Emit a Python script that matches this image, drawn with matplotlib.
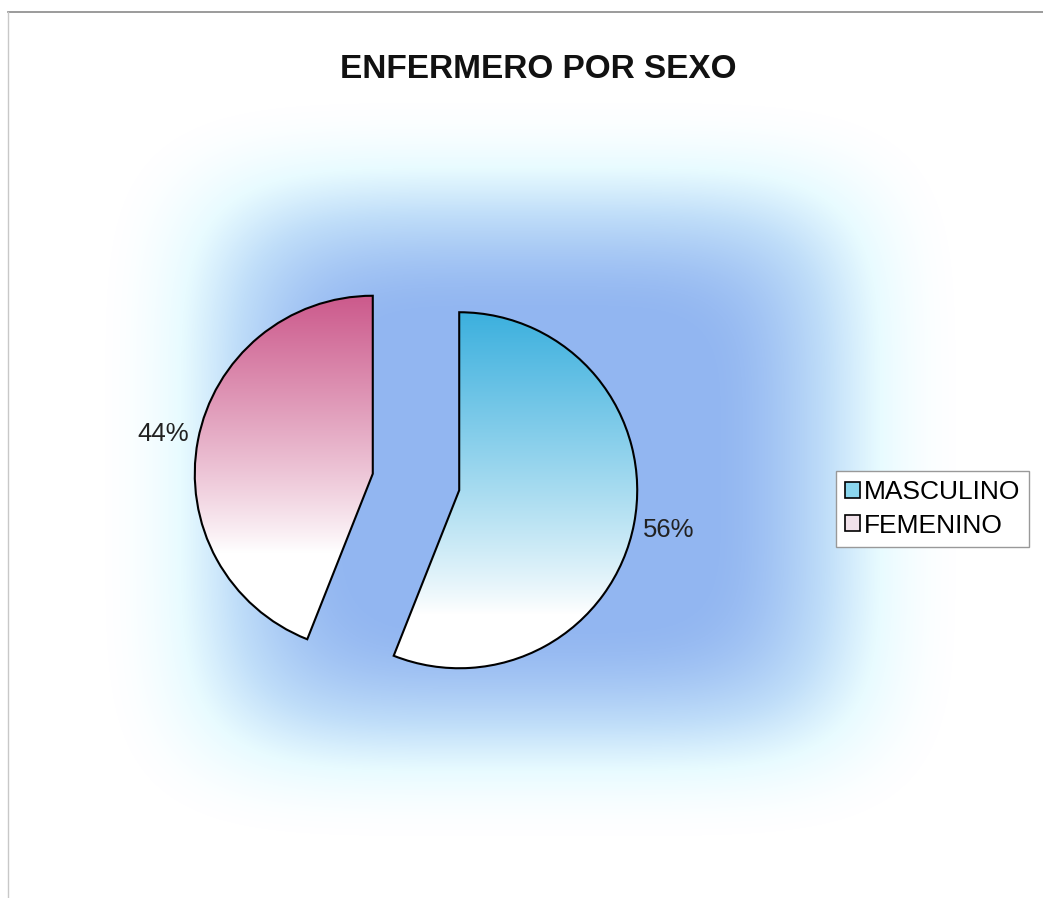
import numpy as np
import matplotlib.pyplot as plt
from matplotlib.colors import LinearSegmentedColormap, to_rgb
from matplotlib.patches import Rectangle

plt.rcParams['font.family'] = ['Liberation Sans', 'DejaVu Sans']

# ---------------------------------------------------------------------------
# Datos
# ---------------------------------------------------------------------------
titulo      = "ENFERMERO POR SEXO"
categorias  = ["MASCULINO", "FEMENINO"]
porcentajes = [56, 44]
colores     = ["#3cb0de", "#cc5a8c"]      # color superior del degradado
leyenda_col = ["#8ad6ee", "#f1e2ea"]

W, H = 1043, 898
fig = plt.figure(figsize=(W / 100, H / 100), dpi=100)
ax = fig.add_axes([0, 0, 1, 1])
ax.set_aspect('equal')

# ---------------------------------------------------------------------------
# Fondo: degradado desde el centro (azul -> blanco)
# ---------------------------------------------------------------------------
yy, xx = np.mgrid[0:H, 0:W]
cx, cy = 530, H - 470
dx = np.abs(xx - cx) / 435.0
dy = np.abs(yy - cy) / 375.0
d = (dx ** 5 + dy ** 5) ** (1 / 5)
s = np.clip((1.0 - d) / 0.6, 0, 1)
s = s * s * (3 - 2 * s)
fondo = LinearSegmentedColormap.from_list(
    "fondo", [(0.0, "#ffffff"), (0.25, "#e8fbff"), (0.55, "#c0def9"), (1.0, "#92b6f1")])
ax.imshow(s, cmap=fondo, vmin=0, vmax=1, extent=(0, W, 0, H), origin='lower',
          zorder=0, interpolation='bilinear')

# ---------------------------------------------------------------------------
# Pastel separado
# ---------------------------------------------------------------------------
radio = 178
wedges, _, autotexts = ax.pie(
    porcentajes, startangle=90, counterclock=False,
    center=(416, H - 482), radius=radio, explode=[44, 44],
    autopct='%1.0f%%', pctdistance=1.2, frame=True,
    wedgeprops=dict(facecolor='none', edgecolor='black', linewidth=1.5, zorder=3),
    textprops=dict(fontsize=18.5, color='#222222'))
ax.set_xlim(0, W)
ax.set_ylim(0, H)
ax.axis('off')

fin_blanco = [0.85, 0.72]
for w, col, fb in zip(wedges, colores, fin_blanco):
    wx, wy = w.center
    grad = np.linspace(0, 1, 256)[:, None]          # fila 0 = abajo
    grad = np.clip((grad - (1 - fb)) / fb, 0, 1) ** 0.9
    c0 = np.array(to_rgb(col))
    img = np.ones((256, 1, 3)) * (1 - grad[..., None]) + c0 * grad[..., None]
    im = ax.imshow(img, extent=(wx - radio, wx + radio, wy - radio, wy + radio),
                   origin='lower', zorder=2, interpolation='bilinear', aspect='auto')
    im.set_clip_path(w)

# ---------------------------------------------------------------------------
# Título, leyenda y marco
# ---------------------------------------------------------------------------
fig.text(0.516, 1 - 70 / H, titulo, ha='center', va='center',
         fontsize=24, fontweight='bold', color='#111111')

handles = [Rectangle((0, 0), 1, 1, facecolor=c, edgecolor='black', linewidth=1.2)
           for c in leyenda_col]
leg = ax.legend(handles, categorias, loc='center left',
                bbox_to_anchor=(836 / W, 1 - 509 / H), bbox_transform=fig.transFigure,
                fontsize=19, frameon=True, fancybox=False, handlelength=0.55,
                handleheight=0.55, handletextpad=0.15, labelspacing=0.35,
                borderpad=0.35, borderaxespad=0)
leg.get_frame().set_edgecolor('#999999')
leg.get_frame().set_linewidth(1.0)
leg.get_frame().set_facecolor('white')
leg.get_frame().set_alpha(1)

ax.plot([8, W], [H - 12, H - 12], color='#8a8a8a', lw=1.2, zorder=4)
ax.plot([8, 8], [0, H - 12], color='#c8c8c8', lw=1.0, zorder=4)

fig.savefig("out.png", dpi=100)
